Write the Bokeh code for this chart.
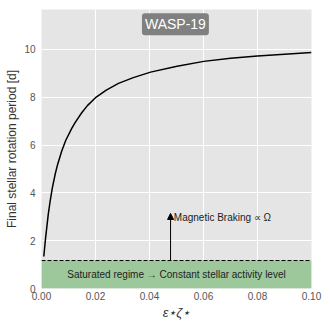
from bokeh.plotting import figure
from bokeh.models import Range1d, FixedTicker, PrintfTickFormatter, Label, BoxAnnotation, Arrow, NormalHead
from bokeh.embed import file_html
from bokeh.resources import INLINE

# Data
eps_zeta = [0.00085, 0.0015, 0.002, 0.0025, 0.0032, 0.004, 0.0051, 0.006, 0.0075, 0.009,
            0.0112, 0.0125, 0.0149, 0.017, 0.02, 0.024, 0.0285, 0.034, 0.0404, 0.0502,
            0.0601, 0.07, 0.08, 0.09, 0.1]
period = [1.34, 2.1, 2.6, 3.1, 3.65, 4.2, 4.8, 5.2, 5.75, 6.2,
          6.7, 6.95, 7.35, 7.65, 7.98, 8.3, 8.58, 8.82, 9.05, 9.3,
          9.5, 9.63, 9.72, 9.80, 9.87]
saturation_period = 1.17
arrow_x = 0.0478
arrow_top = 3.14
x_ticks = [0.0, 0.02, 0.04, 0.06, 0.08, 0.10]
y_ticks = [0, 2, 4, 6, 8, 10]

FONT = "Liberation Sans"

p = figure(width=330, height=330, output_backend="svg", toolbar_location=None,
           x_range=Range1d(0, 0.1), y_range=Range1d(0, 11.67),
           min_border_left=41, min_border_right=19, min_border_top=9, min_border_bottom=42)
p.background_fill_color = "#E5E5E5"
p.border_fill_color = "white"
p.outline_line_color = None

for ax in (p.xaxis[0], p.yaxis[0]):
    ax.axis_line_color = None
    ax.major_tick_line_color = None
    ax.minor_tick_line_color = None
    ax.major_tick_out = 0
    ax.major_tick_in = 0
    ax.major_label_text_font = FONT
    ax.major_label_text_font_size = "10px"
    ax.major_label_text_color = "#555555"
    ax.axis_label_text_font = FONT
    ax.axis_label_text_font_style = "normal"
    ax.axis_label_text_color = "#333333"

p.xaxis.ticker = FixedTicker(ticks=x_ticks)
p.xaxis.formatter = PrintfTickFormatter(format="%.2f")
p.yaxis.ticker = FixedTicker(ticks=y_ticks)
p.xaxis.major_label_standoff = 3
p.yaxis.major_label_standoff = 6
p.xaxis.axis_label = "ε⋆ζ⋆"
p.xaxis.axis_label_text_font_style = "italic"
p.xaxis.axis_label_text_font_size = "13px"
p.xaxis.axis_label_standoff = 2
p.yaxis.axis_label = "Final stellar rotation period [d]"
p.yaxis.axis_label_text_font_size = "12px"
p.yaxis.axis_label_standoff = 2

p.xgrid.grid_line_color = "white"
p.ygrid.grid_line_color = "white"
p.xgrid.grid_line_width = 1
p.ygrid.grid_line_width = 1

band = BoxAnnotation(bottom=0, top=saturation_period, fill_color="#9CC89C", fill_alpha=1.0,
                     line_color=None, level="underlay")
p.add_layout(band)

p.line(x=[0, 0.1], y=[saturation_period, saturation_period], line_color="black",
       line_dash="4 2", line_width=1)

p.line(eps_zeta, period, line_color="black", line_width=1.5)

p.add_layout(Arrow(end=NormalHead(size=6, fill_color="black", line_color="black"),
                   x_start=arrow_x, y_start=saturation_period, x_end=arrow_x, y_end=arrow_top,
                   line_color="black", line_width=1))

p.add_layout(Label(x=arrow_x + 0.0012, y=arrow_top - 0.17, text="Magnetic Braking ∝ Ω",
                   text_font=FONT, text_font_size="10px", text_color="#222222",
                   text_baseline="middle", text_align="left"))

p.add_layout(Label(x=0.05, y=saturation_period / 2, text="Saturated regime → Constant stellar activity level",
                   text_font=FONT, text_font_size="10px", text_color="#222222",
                   text_baseline="middle", text_align="center"))

p.add_layout(Label(x=0.0496, y=11.05, text="WASP-19",
                   text_font=FONT, text_font_size="14px", text_color="white",
                   text_baseline="middle", text_align="center",
                   background_fill_color="#808080", background_fill_alpha=1.0,
                   padding=3, border_radius=3))

open("out.html", "w").write(file_html(p, INLINE))
